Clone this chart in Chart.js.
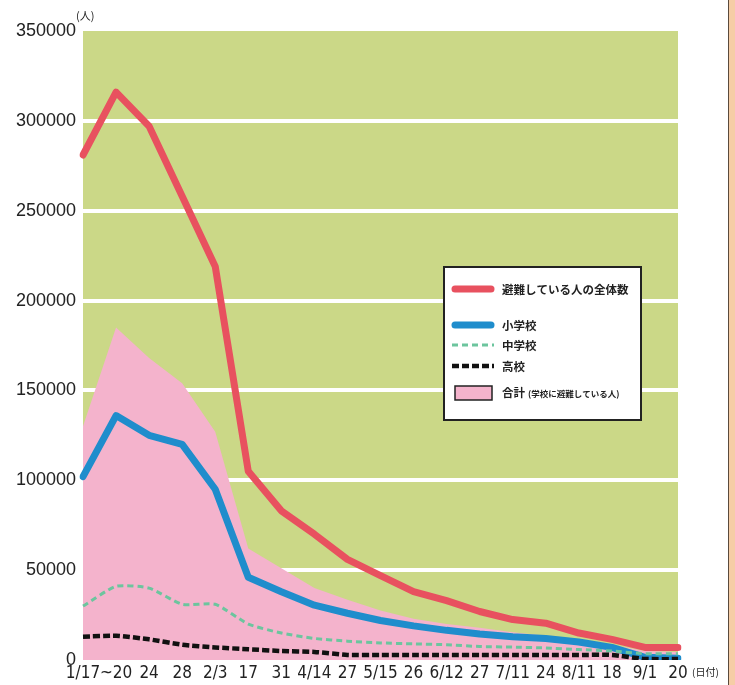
<!DOCTYPE html>
<html lang="ja">
<head>
<meta charset="utf-8">
<title>避難者数の推移</title>
<script src="https://cdn.jsdelivr.net/npm/chart.js@4.4.1/dist/chart.umd.min.js"></script>
<style>
  html, body { margin: 0; padding: 0; background: #ffffff; }
  #wrap { position: relative; width: 735px; height: 685px; overflow: hidden; }
  #wrap canvas { position: absolute; left: 0; top: 0; }
  #edge { position: absolute; top: 0; right: 0; width: 7px; height: 685px;
          background: #f6cda6; border-left: 1.5px solid #5a4a3c; box-sizing: border-box; }
</style>
</head>
<body>
<div id="wrap">
  <canvas id="chart" width="735" height="685"></canvas>
  <div id="edge"></div>
</div>
<script>
// 日付（1995年1月〜9月）
const dates = ['1/17', '~20', '24', '28', '2/3', '17', '31', '4/14', '27', '5/15',
               '26', '6/12', '27', '7/11', '24', '8/11', '18', '9/1', '20'];

// 避難している人の全体数
const totalEvacuees = [281000, 316000, 297000, 258000, 219000, 105000, 83000, 70000, 56000, 47000,
                       38000, 33000, 27000, 22500, 20500, 15000, 11500, 7000, 7000];
// 小学校
const elementary = [102000, 136000, 125000, 120000, 95000, 46000, 38000, 30500, 26000, 22000,
                    19000, 16500, 14500, 13000, 12000, 10000, 7000, 1500, 1000];
// 中学校
const juniorHigh = [30000, 41000, 40000, 31000, 31000, 20000, 15000, 12000, 10500, 9500,
                    9000, 8500, 7500, 7200, 6700, 5800, 5000, 3500, 3500];
// 高校
const highSchool = [13000, 13500, 11500, 8500, 7000, 6000, 5000, 4500, 2800, 2800,
                    2800, 2800, 2800, 2800, 2800, 2800, 2800, 600, 500];
// 合計（学校に避難している人）
const schoolTotal = [130000, 185000, 168000, 154000, 127000, 62000, 51000, 40000, 33500, 27500,
                     23000, 20000, 18000, 15500, 13500, 11000, 8500, 5000, 4500];

const yTicks = [0, 50000, 100000, 150000, 200000, 250000, 300000, 350000];

const FONT_NUM = "'Liberation Sans', Arial, sans-serif";
const FONT_NARROW = "'Liberation Sans Narrow', 'DejaVu Sans Condensed', 'Liberation Sans', sans-serif";
const FONT_JP = "'Noto Sans CJK JP', 'Noto Sans', sans-serif";

// 背景・単位・凡例
const decor = {
  id: 'decor',
  beforeDraw(chart) {
    const { ctx, chartArea: a } = chart;
    ctx.save();
    ctx.fillStyle = '#cbd887';
    ctx.fillRect(a.left, a.top, a.right - a.left, a.bottom - a.top);
    ctx.restore();
  },
  afterDraw(chart) {
    const { ctx, chartArea: a } = chart;
    ctx.save();
    ctx.fillStyle = '#222';
    ctx.textBaseline = 'middle';
    ctx.font = "11px " + FONT_JP;
    ctx.textAlign = 'left';
    ctx.fillText('(人)', 76, 16);
    ctx.font = "10px " + FONT_JP;
    ctx.fillText('(日付)', a.right + 14, 672);

    // 凡例
    const bx = 444, by = 267, bw = 197, bh = 153;
    ctx.fillStyle = '#ffffff';
    ctx.fillRect(bx, by, bw, bh);
    ctx.strokeStyle = '#222';
    ctx.lineWidth = 2;
    ctx.strokeRect(bx, by, bw, bh);

    const ds = chart.data.datasets;
    const rows = [[0, 289], [1, 325], [2, 345], [3, 366]];
    rows.forEach(([i, y]) => {
      const d = ds[i];
      ctx.beginPath();
      ctx.strokeStyle = d.borderColor;
      ctx.lineWidth = d.borderWidth;
      ctx.setLineDash(d.borderDash || []);
      ctx.lineCap = d.borderDash ? 'butt' : 'round';
      ctx.moveTo(d.borderDash ? 452 : 455, y);
      ctx.lineTo(d.borderDash ? 494 : 491, y);
      ctx.stroke();
      ctx.setLineDash([]);
      ctx.fillStyle = '#222';
      ctx.font = "bold 11.5px " + FONT_JP;
      ctx.fillText(d.label, 502, y + 1);
    });

    const p = ds[4];
    ctx.fillStyle = p.backgroundColor;
    ctx.fillRect(455, 386, 37, 14);
    ctx.strokeStyle = '#222';
    ctx.lineWidth = 1.5;
    ctx.strokeRect(455, 386, 37, 14);
    ctx.fillStyle = '#222';
    ctx.font = "bold 11.5px " + FONT_JP;
    ctx.fillText(p.label, 502, 393);
    const w = ctx.measureText(p.label).width;
    ctx.font = "bold 8.5px " + FONT_JP;
    ctx.fillText(p.subLabel, 502 + w + 3, 394);
    ctx.restore();
  }
};

new Chart(document.getElementById('chart'), {
  type: 'line',
  data: {
    labels: dates,
    datasets: [
      { label: '避難している人の全体数', data: totalEvacuees, borderColor: '#e8515f',
        borderWidth: 7, borderCapStyle: 'round', borderJoinStyle: 'round', order: 0 },
      { label: '小学校', data: elementary, borderColor: '#1f8dcc',
        borderWidth: 7, borderCapStyle: 'round', borderJoinStyle: 'round', order: 3 },
      { label: '中学校', data: juniorHigh, borderColor: '#6cc59e',
        borderWidth: 3, borderDash: [6, 4], tension: 0.2, order: 2 },
      { label: '高校', data: highSchool, borderColor: '#111111',
        borderWidth: 4.5, borderDash: [7, 3], tension: 0.2, order: 1 },
      { label: '合計', subLabel: '(学校に避難している人)', data: schoolTotal,
        borderWidth: 0, borderColor: 'rgba(0,0,0,0)', backgroundColor: '#f4b3cc',
        fill: 'origin', order: 4 }
    ]
  },
  options: {
    responsive: false,
    animation: false,
    devicePixelRatio: 1,
    layout: { padding: { top: 31, right: 57, bottom: 0, left: 0 } },
    elements: { point: { radius: 0, hoverRadius: 0 }, line: { tension: 0 } },
    plugins: { legend: { display: false }, tooltip: { enabled: false } },
    scales: {
      x: {
        type: 'category',
        offset: false,
        grid: { display: false, drawTicks: false },
        border: { display: false },
        ticks: { autoSkip: false, maxRotation: 0, minRotation: 0, padding: 3,
                 color: '#222', font: { family: FONT_NARROW, size: 17 } },
        afterFit(s) { s.height = 25; }
      },
      y: {
        min: 0,
        max: 350000,
        afterBuildTicks(s) { s.ticks = yTicks.map(v => ({ value: v })); },
        ticks: { padding: 7, color: '#222', font: { family: FONT_NUM, size: 18 },
                 callback: v => String(v) },
        grid: {
          drawTicks: false,
          lineWidth: 4,
          color: c => (c.tick && (c.tick.value === 0 || c.tick.value === 350000))
                       ? 'rgba(0,0,0,0)' : '#ffffff'
        },
        border: { display: false },
        afterFit(s) { s.width = 83; }
      }
    }
  },
  plugins: [decor]
});
</script>
</body>
</html>
